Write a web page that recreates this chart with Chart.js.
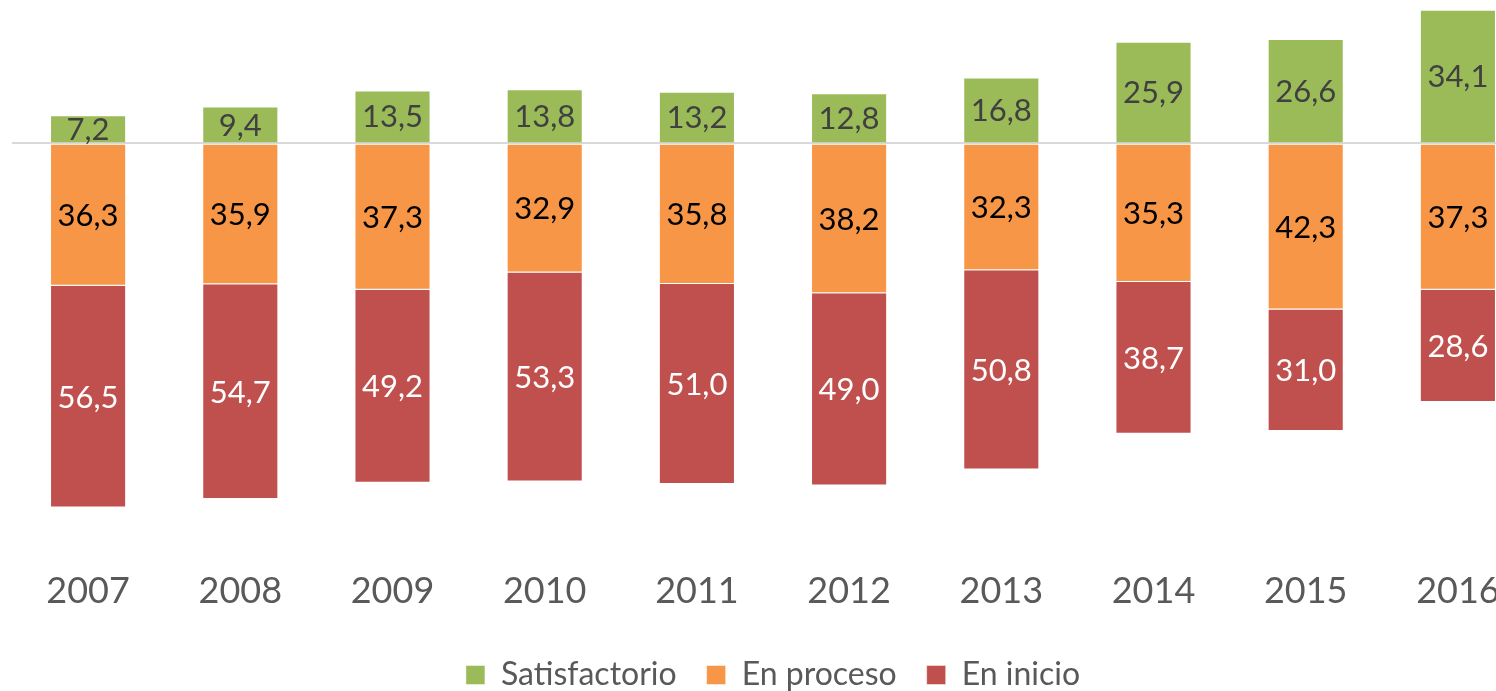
<!DOCTYPE html>
<html>
<head>
<meta charset="utf-8">
<script src="https://cdn.jsdelivr.net/npm/chart.js@4/dist/chart.umd.min.js"></script>
<style>
  html, body { margin: 0; padding: 0; background: #fff; overflow: hidden; width: 1496px; height: 691px; }
  #wrap { position: absolute; left: 0; top: 0; width: 1548px; height: 701px; }
</style>
</head>
<body>
<div id="wrap"><canvas id="c"></canvas></div>
<script>
const years = ['2007','2008','2009','2010','2011','2012','2013','2014','2015','2016'];
const satisfactorio = [7.2, 9.4, 13.5, 13.8, 13.2, 12.8, 16.8, 25.9, 26.6, 34.1];
const enProceso = [36.3, 35.9, 37.3, 32.9, 35.8, 38.2, 32.3, 35.3, 42.3, 37.3];
const enInicio = [56.5, 54.7, 49.2, 53.3, 51.0, 49.0, 50.8, 38.7, 31.0, 28.6];

const FONT = 'Lato, "Open Sans", sans-serif';

const labelPlugin = {
  id: 'barLabels',
  afterDatasetsDraw(chart) {
    const ctx = chart.ctx;
    ctx.save();
    ctx.font = '31px ' + FONT;
    ctx.textAlign = 'center';
    ctx.textBaseline = 'middle';
    chart.data.datasets.forEach((ds, di) => {
      const meta = chart.getDatasetMeta(di);
      meta.data.forEach((bar, i) => {
        const v = Math.abs(ds.data[i]);
        const y = (bar.y + bar.base) / 2;
        ctx.fillStyle = ds.labelColor;
        ctx.fillText(v.toFixed(1).replace('.', ','), bar.x, y + 1);
      });
    });
    ctx.restore();
  }
};

new Chart(document.getElementById('c'), {
  type: 'bar',
  data: {
    labels: years,
    datasets: [
      { label: 'Satisfactorio', data: satisfactorio, backgroundColor: '#9BBB59', borderColor: 'rgba(255,255,255,0.45)', borderWidth: 1, labelColor: '#404040' },
      { label: 'En proceso', data: enProceso.map(v => -v), backgroundColor: '#F79646', borderColor: 'rgba(255,255,255,0.45)', borderWidth: 1, labelColor: '#000000' },
      { label: 'En inicio', data: enInicio.map(v => -v), backgroundColor: '#C0504D', borderColor: 'rgba(255,255,255,0.45)', borderWidth: 1, labelColor: '#FFFFFF' }
    ]
  },
  options: {
    responsive: true,
    maintainAspectRatio: false,
    animation: false,
    layout: { padding: { left: 12, right: 14, top: 0, bottom: 0 } },
    datasets: { bar: { categoryPercentage: 1.0, barPercentage: 0.5 } },
    plugins: {
      legend: {
        position: 'bottom',
        labels: {
          font: { family: FONT, size: 32 },
          color: '#595959',
          boxWidth: 19,
          boxHeight: 19,
          padding: 30,
          useBorderRadius: false
        }
      },
      tooltip: { enabled: false }
    },
    scales: {
      x: {
        stacked: true,
        grid: { display: false, drawTicks: false },
        border: { display: false },
        ticks: { font: { family: FONT, size: 36 }, color: '#595959', padding: 16 }
      },
      y: {
        stacked: true,
        min: -104.6,
        max: 36.57,
        grid: {
          drawTicks: false,
          lineWidth: 2,
          color: ctx => (ctx.tick && ctx.tick.value === 0) ? '#D9D9D9' : 'rgba(0,0,0,0)'
        },
        border: { display: false },
        ticks: { display: false, stepSize: 10 },
        afterBuildTicks: axis => {
          if (!axis.ticks.some(t => t.value === 0)) axis.ticks.push({ value: 0 });
        }
      }
    }
  },
  plugins: [labelPlugin]
});
</script>
</body>
</html>
